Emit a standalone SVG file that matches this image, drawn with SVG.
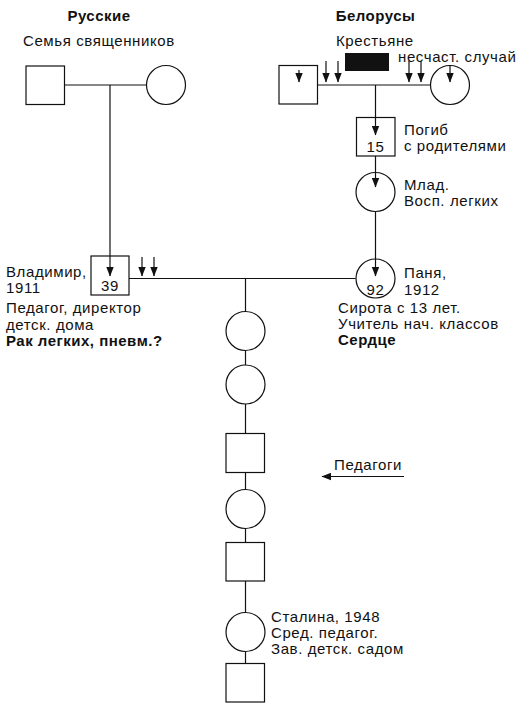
<svg xmlns="http://www.w3.org/2000/svg" width="531" height="710" viewBox="0 0 531 710">
<style>
  .sh { fill: #fff; stroke: #111; stroke-width: 1.2; }
  .ln { fill: none; stroke: #111; stroke-width: 1.2; }
  .ar { fill: none; stroke: #111; stroke-width: 1.2; marker-end: url(#ah); }
  text { font-family: "Liberation Sans", Arial, sans-serif; font-size: 15px; letter-spacing: 0.6px; fill: #111; }
  .b { font-weight: bold; letter-spacing: 0.5px; }
  .m { text-anchor: middle; }
</style>
<defs>
  <marker id="ah" markerUnits="userSpaceOnUse" markerWidth="10" markerHeight="8" viewBox="0 0 9 7" refX="8.5" refY="3.5" orient="auto">
    <path d="M0,0 L9,3.5 L0,7 z" fill="#111"/>
  </marker>
</defs>

<g id="connectors">
  <line class="ln" x1="64" y1="85" x2="146.5" y2="85"/>
  <line class="ar" x1="110" y1="85" x2="110" y2="276"/>
  <line class="ln" x1="318" y1="85" x2="430.5" y2="85"/>
  <line class="ar" x1="375.5" y1="85" x2="375.5" y2="135"/>
  <line class="ar" x1="375.5" y1="156" x2="375.5" y2="187"/>
  <line class="ar" x1="375.5" y1="211.5" x2="375.5" y2="276"/>
  <line class="ln" x1="129" y1="278.5" x2="355.5" y2="278.5"/>
  <line class="ln" x1="245.5" y1="278.5" x2="245.5" y2="311.5"/>
  <line class="ln" x1="245.5" y1="350.5" x2="245.5" y2="365"/>
  <line class="ln" x1="245.5" y1="404" x2="245.5" y2="433.5"/>
  <line class="ln" x1="245.5" y1="472.5" x2="245.5" y2="489.5"/>
  <line class="ln" x1="245.5" y1="528.5" x2="245.5" y2="542.5"/>
  <line class="ln" x1="245.5" y1="581" x2="245.5" y2="612.5"/>
  <line class="ln" x1="245.5" y1="651.5" x2="245.5" y2="663.5"/>
  <line class="ar" x1="142" y1="257" x2="142" y2="276"/>
  <line class="ar" x1="154" y1="257" x2="154" y2="276"/>
  <line class="ar" x1="326" y1="61" x2="326" y2="82"/>
  <line class="ar" x1="338" y1="61" x2="338" y2="82"/>
  <line class="ar" x1="409" y1="61" x2="409" y2="82"/>
  <line class="ar" x1="421" y1="61" x2="421" y2="82"/>
  <line class="ar" x1="404" y1="476.5" x2="322" y2="476.5"/>
</g>

<g id="labels-top">
  <text class="b m" x="99" y="21">Русские</text>
  <text x="23" y="46">Семья священников</text>
  <text class="b m" x="375.5" y="21">Белорусы</text>
  <text x="336" y="46">Крестьяне</text>
  <rect x="345" y="53" width="44" height="18" fill="#111"/>
  <text x="398" y="62">несчаст. случай</text>
</g>

<g id="ru-father"><rect class="sh" x="26" y="66" width="38.5" height="38.5"/></g>
<g id="ru-mother"><circle class="sh" cx="166" cy="85" r="19.5"/></g>
<g id="by-father">
  <rect class="sh" x="279" y="65.5" width="38.5" height="38.5"/>
  <line class="ar" x1="299" y1="70" x2="299" y2="82"/>
</g>
<g id="by-mother">
  <circle class="sh" cx="450" cy="85" r="19.5"/>
  <line class="ar" x1="450" y1="65.5" x2="450" y2="82"/>
</g>

<g id="brother15">
  <rect class="sh" x="356.5" y="117.5" width="38.5" height="38.5"/>
  <line class="ar" x1="375.5" y1="117.5" x2="375.5" y2="135"/>
  <text class="m" x="375.5" y="152">15</text>
  <text x="404" y="135">Погиб</text>
  <text x="404" y="151">с родителями</text>
</g>

<g id="sister-young">
  <circle class="sh" cx="375.5" cy="192" r="19.5"/>
  <line class="ar" x1="375.5" y1="172.5" x2="375.5" y2="187"/>
  <text x="404" y="190">Млад.</text>
  <text x="404" y="206">Восп. легких</text>
</g>

<g id="vladimir">
  <rect class="sh" x="91" y="256" width="38" height="39"/>
  <line class="ar" x1="110" y1="256" x2="110" y2="276"/>
  <text class="m" x="110" y="291">39</text>
  <text x="6" y="277">Владимир,</text>
  <text x="6" y="293">1911</text>
  <text x="6" y="313">Педагог, директор</text>
  <text x="6" y="330">детск. дома</text>
  <text class="b" x="6" y="346">Рак легких, пневм.?</text>
</g>

<g id="panya">
  <circle class="sh" cx="375.5" cy="278.5" r="19.5"/>
  <line class="ar" x1="375.5" y1="259" x2="375.5" y2="276"/>
  <text class="m" x="375.5" y="295">92</text>
  <text x="404" y="278">Паня,</text>
  <text x="404" y="295">1912</text>
  <text x="338" y="313">Сирота с 13 лет.</text>
  <text x="338" y="329">Учитель нач. классов</text>
  <text class="b" x="338" y="345">Сердце</text>
</g>

<g id="child1"><circle class="sh" cx="245.5" cy="331" r="19.5"/></g>
<g id="child2"><circle class="sh" cx="245.5" cy="384.5" r="19.5"/></g>
<g id="child3"><rect class="sh" x="226" y="433.5" width="38.5" height="39"/></g>
<g id="child4"><circle class="sh" cx="245.5" cy="509" r="19.5"/></g>
<g id="child5"><rect class="sh" x="226" y="542.5" width="38.5" height="38.5"/></g>
<g id="stalina">
  <circle class="sh" cx="245.5" cy="632" r="19.5"/>
  <text x="271" y="622">Сталина, 1948</text>
  <text x="271" y="638">Сред. педагог.</text>
  <text x="271" y="654">Зав. детск. садом</text>
</g>
<g id="grandchild"><rect class="sh" x="226" y="663.5" width="38.5" height="38.5"/></g>

<g id="teachers-note">
  <text x="334" y="470">Педагоги</text>
</g>
</svg>
